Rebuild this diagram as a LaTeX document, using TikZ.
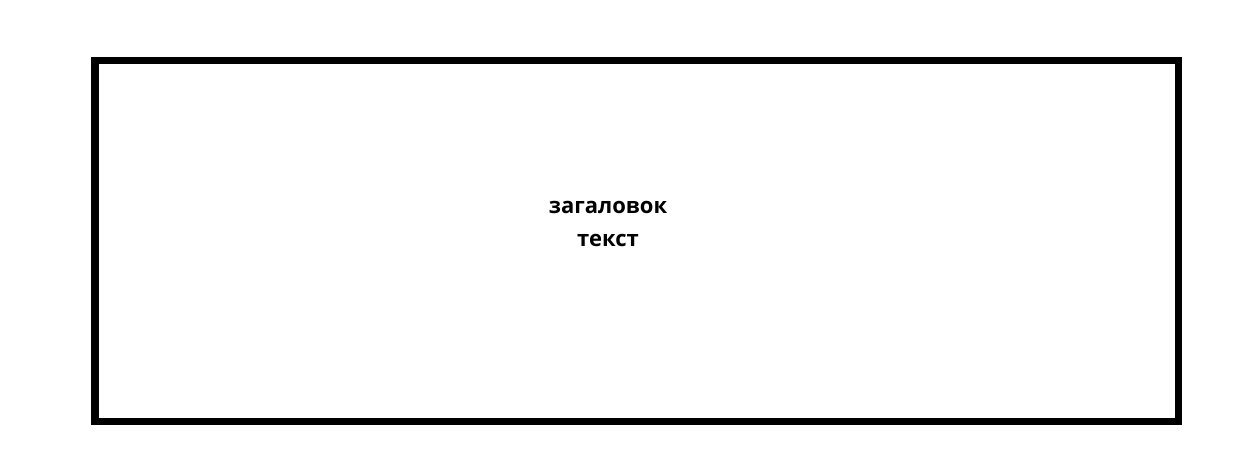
\documentclass[tikz,border=0pt]{standalone}
\usepackage{fontspec}
\setmainfont{Open Sans}
\begin{document}
\begin{tikzpicture}[x=1pt,y=-1pt,
  frame/.style={draw=black,line width=7.5pt},
  label/.style={font=\fontsize{22}{26}\selectfont\bfseries,anchor=base,inner sep=0pt}]
\useasboundingbox (0,0) rectangle (1242,460);
\draw[frame] (95,60.5) rectangle (1178.5,421.5);
\node[label] (title) at (608,213) {загаловок};
\node[label] (body) at (608,246) {текст};
\end{tikzpicture}
\end{document}
